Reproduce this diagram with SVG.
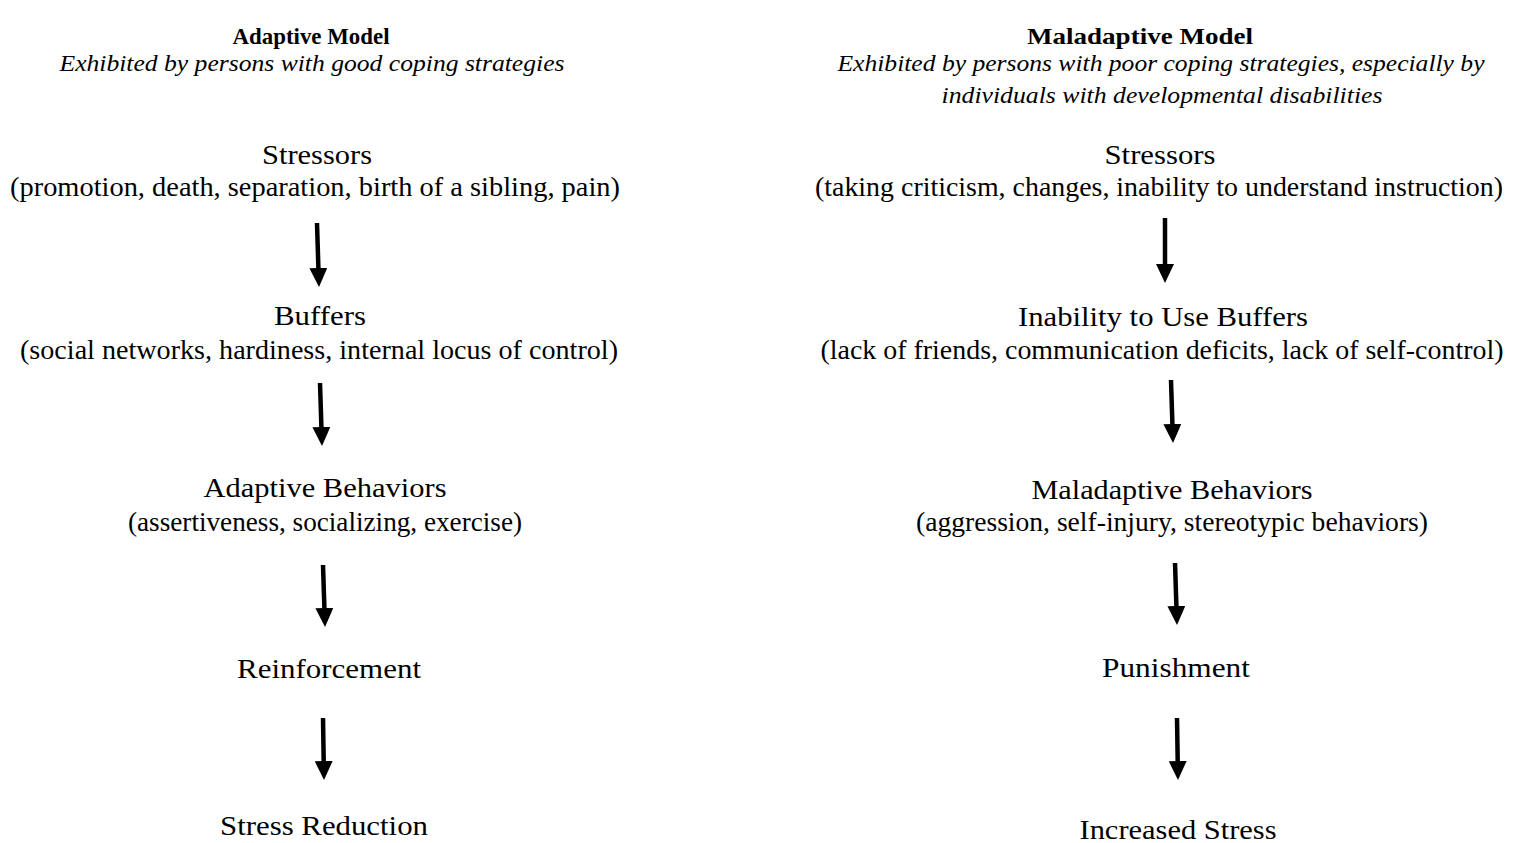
<svg xmlns="http://www.w3.org/2000/svg" width="1514" height="843" viewBox="0 0 1514 843">
<defs>
<style>
text{font-family:"Liberation Serif","Times New Roman",serif;fill:#000;text-anchor:middle;font-size:27px}
.h{font-weight:bold;font-size:24px}
.i{font-style:italic;font-size:24px}
.c line{stroke:#000;stroke-width:4.5;marker-end:url(#ah)}
</style>
<marker id="ah" viewBox="0 0 19 18" refX="0" refY="9" markerWidth="19" markerHeight="18" markerUnits="userSpaceOnUse" orient="auto">
<path d="M0,0L19,9L0,18z" fill="#000"/>
</marker>
</defs>
<rect width="1514" height="843" fill="#fff"/>
<g id="left-header">
<text class="h" x="311" y="44" textLength="157" lengthAdjust="spacingAndGlyphs">Adaptive Model</text>
<text class="i" x="312" y="71" textLength="505" lengthAdjust="spacingAndGlyphs">Exhibited by persons with good coping strategies</text>
</g>
<g id="l-stressors">
<text x="317" y="164" textLength="110" lengthAdjust="spacingAndGlyphs">Stressors</text>
<text x="315" y="196" textLength="610" lengthAdjust="spacingAndGlyphs">(promotion, death, separation, birth of a sibling, pain)</text>
</g>
<g id="l-buffers">
<text x="320" y="325" textLength="92" lengthAdjust="spacingAndGlyphs">Buffers</text>
<text x="319" y="359" textLength="598" lengthAdjust="spacingAndGlyphs">(social networks, hardiness, internal locus of control)</text>
</g>
<g id="l-behaviors">
<text x="325" y="497" textLength="243" lengthAdjust="spacingAndGlyphs">Adaptive Behaviors</text>
<text x="325" y="531" textLength="394" lengthAdjust="spacingAndGlyphs">(assertiveness, socializing, exercise)</text>
</g>
<g id="l-reinforcement">
<text x="329" y="678" textLength="184" lengthAdjust="spacingAndGlyphs">Reinforcement</text>
</g>
<g id="l-reduction">
<text x="324" y="835" textLength="208" lengthAdjust="spacingAndGlyphs">Stress Reduction</text>
</g>
<g id="right-header">
<text class="h" x="1140" y="44" textLength="226" lengthAdjust="spacingAndGlyphs">Maladaptive Model</text>
<text class="i" x="1161" y="71" textLength="647" lengthAdjust="spacingAndGlyphs">Exhibited by persons with poor coping strategies, especially by</text>
<text class="i" x="1162" y="103" textLength="441" lengthAdjust="spacingAndGlyphs">individuals with developmental disabilities</text>
</g>
<g id="r-stressors">
<text x="1160" y="164" textLength="111" lengthAdjust="spacingAndGlyphs">Stressors</text>
<text x="1159" y="196" textLength="688" lengthAdjust="spacingAndGlyphs">(taking criticism, changes, inability to understand instruction)</text>
</g>
<g id="r-buffers">
<text x="1163" y="326" textLength="290" lengthAdjust="spacingAndGlyphs">Inability to Use Buffers</text>
<text x="1162" y="359" textLength="683" lengthAdjust="spacingAndGlyphs">(lack of friends, communication deficits, lack of self-control)</text>
</g>
<g id="r-behaviors">
<text x="1172" y="499" textLength="281" lengthAdjust="spacingAndGlyphs">Maladaptive Behaviors</text>
<text x="1172" y="531" textLength="512" lengthAdjust="spacingAndGlyphs">(aggression, self-injury, stereotypic behaviors)</text>
</g>
<g id="r-punishment">
<text x="1176" y="677" textLength="148" lengthAdjust="spacingAndGlyphs">Punishment</text>
</g>
<g id="r-increased">
<text x="1178" y="839" textLength="197" lengthAdjust="spacingAndGlyphs">Increased Stress</text>
</g>
<g id="connectors" class="c">
<line x1="317" y1="223" x2="318.4" y2="268"/>
<line x1="320" y1="383" x2="321.4" y2="427"/>
<line x1="323" y1="565" x2="324.4" y2="608"/>
<line x1="323" y1="718" x2="323.7" y2="761"/>
<line x1="1165" y1="218" x2="1165" y2="264"/>
<line x1="1171" y1="380" x2="1172.4" y2="424"/>
<line x1="1175" y1="563" x2="1176.4" y2="606"/>
<line x1="1177" y1="718" x2="1177.7" y2="761"/>
</g>
</svg>
